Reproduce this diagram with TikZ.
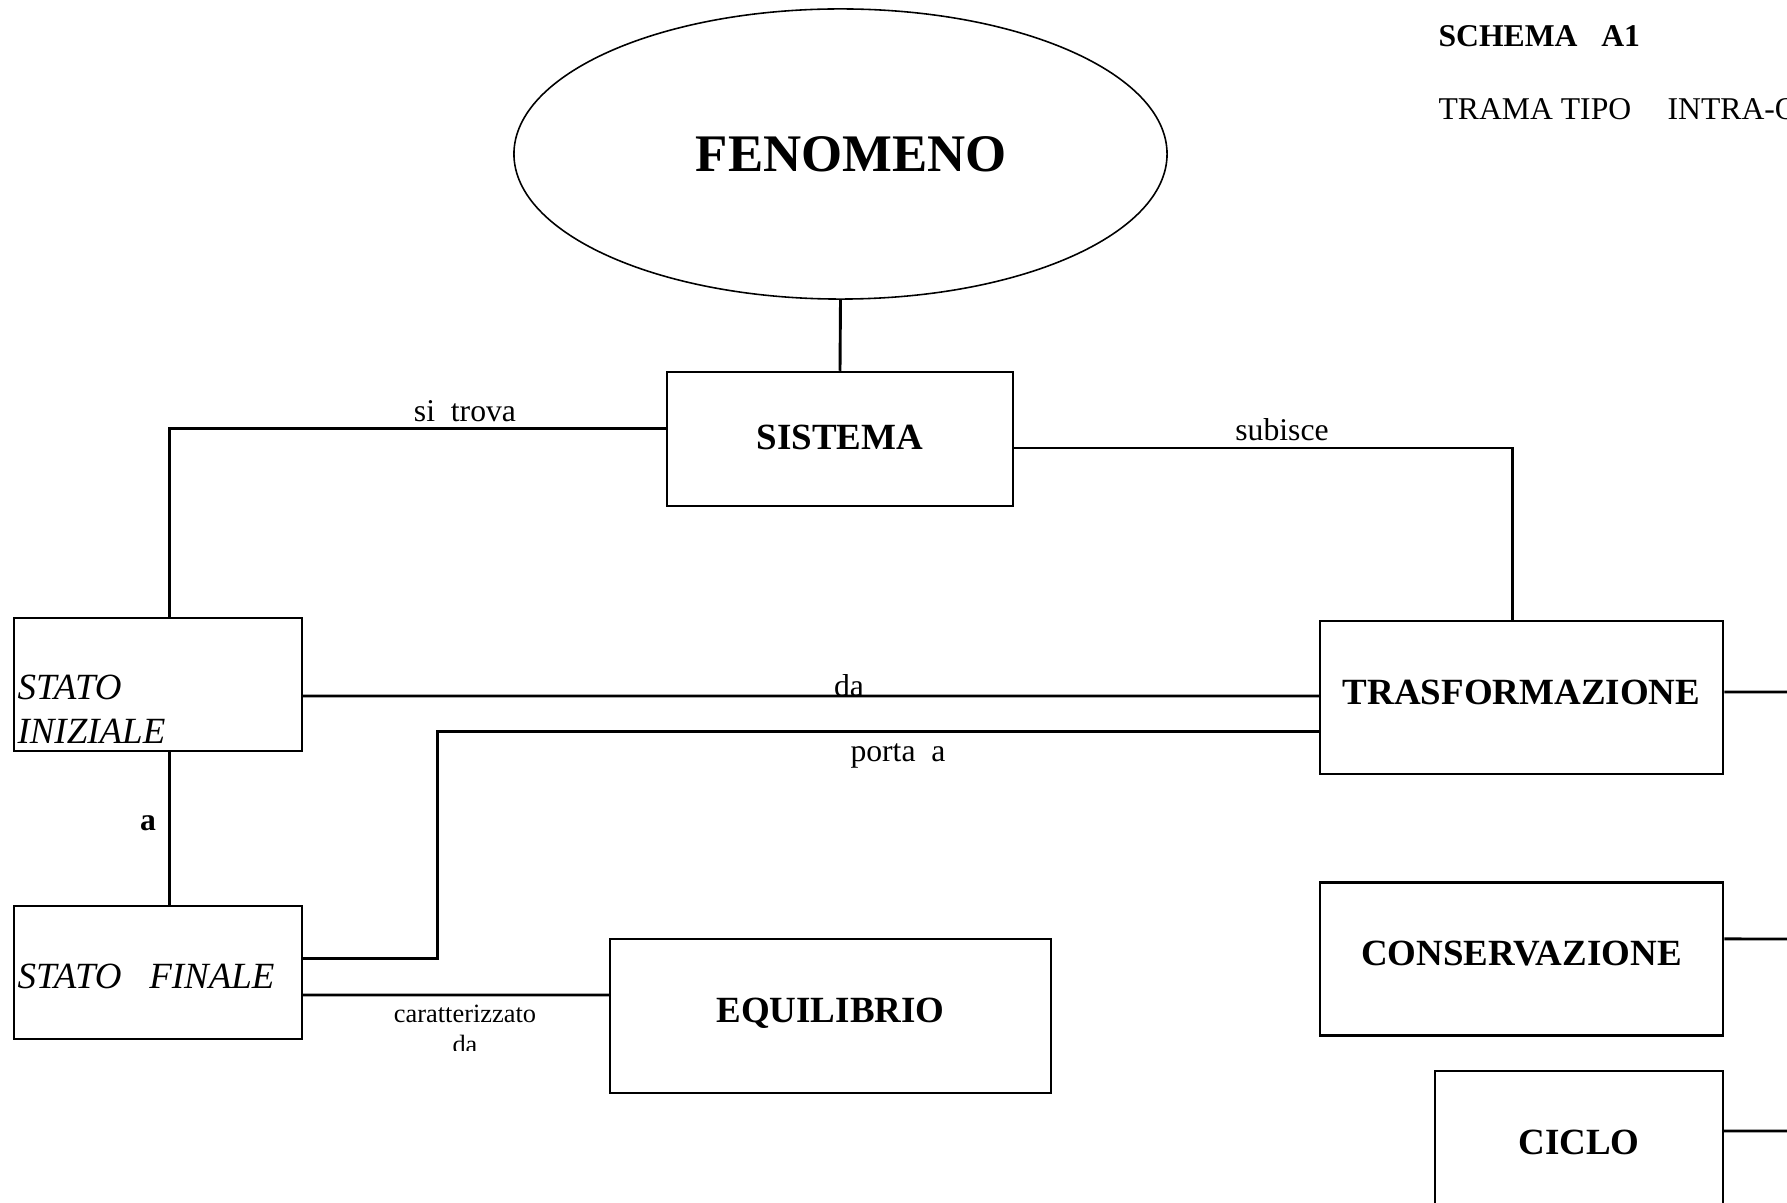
\documentclass[tikz,border=0pt]{standalone}
\usepackage{fontspec}
\setmainfont{Liberation Serif}
\usetikzlibrary{shapes.geometric}

\begin{document}
\begin{tikzpicture}[x=0.3788pt,y=-0.3788pt,
	box/.style={draw,line width=0.9pt,inner sep=0pt,text depth=4pt,font=\fontsize{14}{16}\selectfont\bfseries},
	conn/.style={line width=1.1pt},
	lbl/.style={inner sep=0pt,font=\fontsize{12}{14}\selectfont}]
\path [use as bounding box,fill=white] (0,0) rectangle (1787,1203);

\node [ellipse,draw,line width=0.6pt,inner sep=0pt,minimum width=247.4pt,minimum height=109.9pt,
	label={[inner sep=0pt,xshift=4.1pt,font=\fontsize{20}{24}\selectfont\bfseries]center:FENOMENO}] (fenomeno) at (840.5,154) {};
\node [box,text depth=1.5pt,minimum width=131.1pt,minimum height=50.8pt] (sistema) at (840,439) {SISTEMA};
\node [box,minimum width=109.1pt,minimum height=50.4pt] (iniziale) at (158,684.5) {};
\node [box,minimum width=109.1pt,minimum height=50.4pt] (finale) at (158,972.5) {};
\node [box,minimum width=167.1pt,minimum height=58.3pt] (equilibrio) at (830.5,1016) {EQUILIBRIO};
\node [box,minimum width=152.7pt,minimum height=58pt] (trasf) at (1521.5,697.5) {TRASFORMAZIONE};
\node [box,minimum width=152.7pt,minimum height=58pt] (conserv) at (1521.5,959) {CONSERVAZIONE};
\node [box,minimum width=109.1pt,minimum height=58pt] (ciclo) at (1579,1147.5) {CICLO};

% testi dei riquadri di stato
\node [inner sep=0pt,anchor=west,align=left,font=\fontsize{14}{16.7}\selectfont\itshape] (tiniziale) at (17,709) {STATO\\INIZIALE};
\node [inner sep=0pt,anchor=west,font=\fontsize{14}{16.7}\selectfont\itshape] (tfinale) at (17,976) {STATO\hspace{0.75em}FINALE};

\coordinate (bordoT) at (1787,692);
\coordinate (bordoC) at (1787,939);
\coordinate (bordoL) at (1787,1131);

\draw [conn] (fenomeno.south) -- (sistema.north);
\draw [conn] ([yshift=4pt]sistema.west) -| ([xshift=4.2pt]iniziale.north);
\draw [conn] ([yshift=-3.4pt]sistema.east) -| ([xshift=-3.4pt]trasf.north);
\draw [conn] ([yshift=-4.36pt]iniziale.east) -- ([yshift=0.57pt]trasf.west);
\draw [conn] ([yshift=5.3pt]finale.east) -- ++(134.5,0) |- ([yshift=-12.96pt]trasf.west);
\draw [conn] ([xshift=4.2pt]iniziale.south) -- ([xshift=4.2pt]finale.north);
\draw [conn] ([yshift=-8.52pt]finale.east) -- ([yshift=7.95pt]equilibrio.west);
\draw [conn] ([yshift=2.08pt]trasf.east) -- (bordoT);
\draw [conn] ([yshift=7.6pt]conserv.east) -- (bordoC);
\draw [conn] ([yshift=6.25pt]ciclo.east) -- (bordoL);

\node [lbl] (lsitrova) at (465,411.5) {si\ \ trova};
\node [lbl] (lsubisce) at (1282,430) {subisce};
\node [lbl] (lda) at (849,686) {da};
\node [lbl] (lporta) at (898,756) {porta\ \ a};
\node [lbl,font=\fontsize{12}{14}\selectfont\bfseries] (la) at (148,823) {a};
\begin{scope}
	\clip (300,1000) rectangle (620,1051);
	\node [lbl,align=center,font=\fontsize{10}{11.5}\selectfont] (lcaratt) at (465,1029.5) {caratterizzato\\da};
\end{scope}

\node [lbl,anchor=base west,font=\fontsize{12}{14}\selectfont\bfseries] (schema) at (1438,46.5) {SCHEMA\hspace{0.75em}A1};
\node [lbl,anchor=base west] (trama) at (1438,120) {TRAMA TIPO\hspace{1.15em}INTRA-Q};
\end{tikzpicture}
\end{document}
